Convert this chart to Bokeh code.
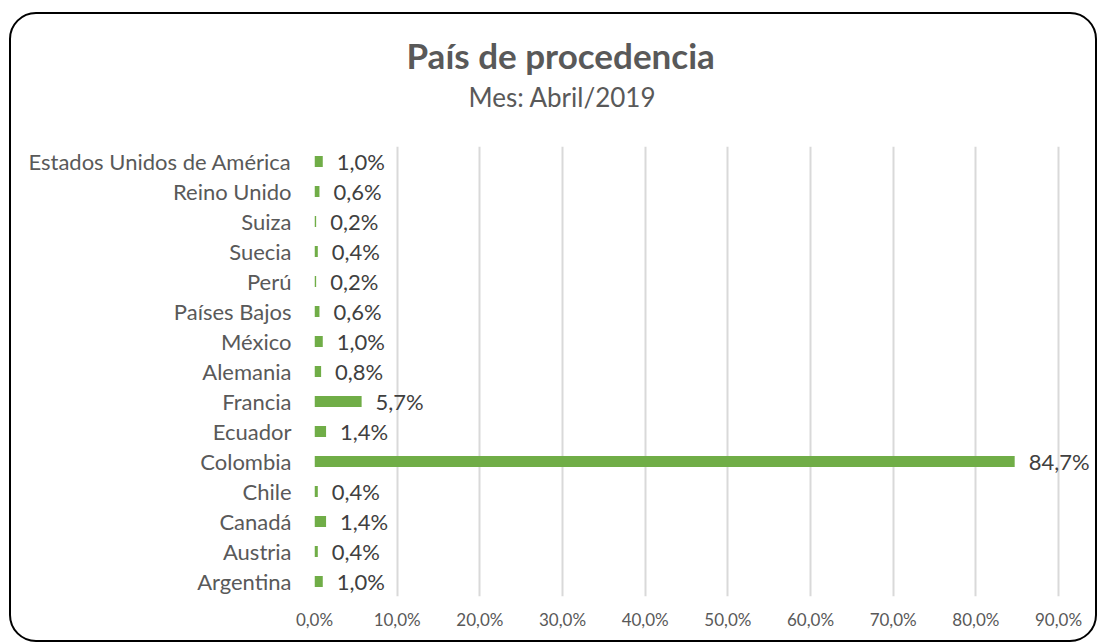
from bokeh.plotting import figure
from bokeh.models import ColumnDataSource, LabelSet, Title, FixedTicker, CustomJSTickFormatter
from bokeh.core.properties import value
from bokeh.embed import file_html
from bokeh.resources import INLINE

# ---- data ----
countries = ["Argentina", "Austria", "Canadá", "Chile", "Colombia", "Ecuador",
             "Francia", "Alemania", "México", "Países Bajos", "Perú", "Suecia",
             "Suiza", "Reino Unido", "Estados Unidos de América"]
values = [1.0, 0.4, 1.4, 0.4, 84.7, 1.4, 5.7, 0.8, 1.0, 0.6, 0.2, 0.4, 0.2, 0.6, 1.0]
x_ticks = [0, 10, 20, 30, 40, 50, 60, 70, 80, 90]
title_text = "País de procedencia"
subtitle_text = "Mes: Abril/2019"

labels = [f"{v:.1f}".replace(".", ",") + "%" for v in values]
src = ColumnDataSource(dict(cat=countries, val=values, lbl=labels))

FONT = "Lato"
W, H = 1088, 630

p = figure(width=W, height=H, y_range=countries, x_range=(0, 94.96),
           output_backend="svg", toolbar_location=None,
           min_border_left=303, min_border_right=0,
           min_border_top=132, min_border_bottom=48)
p.styles = {"border": "2px solid #000000", "border-radius": "27px",
            "margin": "12px 0 0 9px", "overflow": "hidden"}
p.border_fill_color = None
p.background_fill_color = None
p.outline_line_color = None

p.hbar(y="cat", right="val", height=0.37, left=0, source=src,
       fill_color="#70AD47", line_color=None)

p.add_layout(LabelSet(x="val", y="cat", text="lbl", source=src, x_offset=14,
                      text_baseline="middle", text_font=value(FONT),
                      text_font_size=value("22px"), text_color="#404040"))

# grid
p.ygrid.grid_line_color = None
p.xgrid.grid_line_color = "#D9D9D9"
p.xgrid.grid_line_width = 2
p.xgrid.ticker = FixedTicker(ticks=x_ticks)

# x axis
p.xaxis.ticker = FixedTicker(ticks=x_ticks)
p.xaxis.formatter = CustomJSTickFormatter(code="return tick.toFixed(1).replace('.', ',') + '%';")
p.xaxis.axis_line_color = None
p.xaxis.major_tick_line_color = None
p.xaxis.minor_tick_line_color = None
p.xaxis.major_label_text_font = FONT
p.xaxis.major_label_text_font_size = "17px"
p.xaxis.major_label_text_color = "#595959"
p.xaxis.major_label_standoff = 6

# y axis
p.yaxis.axis_line_color = None
p.yaxis.major_tick_line_color = None
p.yaxis.minor_tick_line_color = None
p.yaxis.major_label_text_font = FONT
p.yaxis.major_label_text_font_size = "22px"
p.yaxis.major_label_text_color = "#595959"
p.yaxis.major_label_standoff = 17

# titles: first added sits closest to the frame
p.add_layout(Title(text=" ", text_font=FONT, text_font_size="14px", standoff=8), "above")
p.add_layout(Title(text=subtitle_text, align="left", offset=154, vertical_align="top",
                   standoff=10, text_font=FONT, text_font_style="normal",
                   text_font_size="26px", text_color="#595959"), "above")
p.add_layout(Title(text=title_text, align="left", offset=92, vertical_align="bottom",
                   standoff=0, text_font=FONT, text_font_style="bold",
                   text_font_size="35px", text_color="#595959"), "above")

open("out.html", "w").write(file_html(p, INLINE))
